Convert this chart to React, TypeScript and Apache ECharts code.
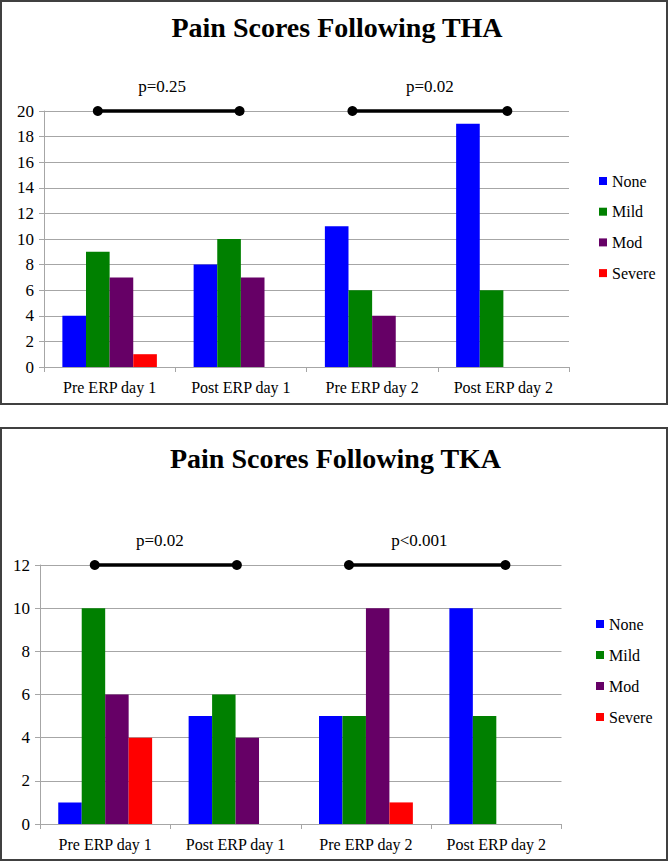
import React, { useEffect, useRef } from "react";
import * as echarts from "echarts";

const categories = ["Pre ERP day 1", "Post ERP day 1", "Pre ERP day 2", "Post ERP day 2"];
const levels = ["None", "Mild", "Mod", "Severe"];
const levelColors = ["#0000ff", "#008000", "#660066", "#ff0000"];

const thaNone = [4, 8, 11, 19];
const thaMild = [9, 10, 6, 6];
const thaMod = [7, 7, 4, null];
const thaSevere = [1, null, null, null];

const tkaNone = [1, 5, 5, 10];
const tkaMild = [10, 6, 5, 5];
const tkaMod = [6, 4, 10, null];
const tkaSevere = [4, null, 1, null];

const thaTitle = "Pain Scores Following THA";
const tkaTitle = "Pain Scores Following TKA";

const thaYTicks = { min: 0, max: 20, interval: 2 };
const tkaYTicks = { min: 0, max: 12, interval: 2 };

// brackets (x in category units 0..4, y in data units)
const thaPValues = ["p=0.25", "p=0.02"];
const thaBracketSpans = [[0.41, 1.49], [2.35, 3.53]];
const thaLabelX = [0.9, 2.94];
const thaBracketY = 20;

const tkaPValues = ["p=0.02", "p<0.001"];
const tkaBracketSpans = [[0.42, 1.51], [2.37, 3.57]];
const tkaLabelX = [0.92, 2.91];
const tkaBracketY = 12;

const FONT = "Liberation Serif";
const GRID_GRAY = "#a6a6a6";

export default function App() {
  const ref = useRef<HTMLDivElement>(null);

  useEffect(() => {
    if (!ref.current) return;
    const chart = echarts.init(ref.current, null, { renderer: "svg" });

    const catAxis = (gridIndex: number) => ({
      type: "category",
      gridIndex,
      data: categories,
      axisLine: { show: true, lineStyle: { color: GRID_GRAY, width: 1 } },
      axisTick: { show: true, alignWithLabel: false, length: 5, lineStyle: { color: GRID_GRAY } },
      axisLabel: { color: "#000", fontFamily: FONT, fontSize: 16, margin: 12 },
      splitLine: { show: false },
    });
    const hiddenX = (gridIndex: number) => ({
      type: "value",
      gridIndex,
      min: 0,
      max: 4,
      show: false,
    });
    const valAxis = (gridIndex: number, t: { min: number; max: number; interval: number }) => ({
      type: "value",
      gridIndex,
      min: t.min,
      max: t.max,
      interval: t.interval,
      axisLine: { show: true, lineStyle: { color: GRID_GRAY, width: 1 } },
      axisTick: { show: true, length: 5, lineStyle: { color: GRID_GRAY } },
      axisLabel: { color: "#000", fontFamily: FONT, fontSize: 17, margin: 10 },
      splitLine: { show: true, lineStyle: { color: GRID_GRAY, width: 1 } },
    });

    const barSeries = (data: (number | null)[][], xIdx: number, yIdx: number) =>
      data.map((d, i) => ({
        name: levels[i],
        type: "bar",
        xAxisIndex: xIdx,
        yAxisIndex: yIdx,
        data: d,
        barGap: "0%",
        barCategoryGap: "28%",
        itemStyle: { color: levelColors[i] },
      }));

    const bracketSeries = (spans: number[][], y: number, xIdx: number, yIdx: number) =>
      spans.map((s) => ({
        type: "line",
        xAxisIndex: xIdx,
        yAxisIndex: yIdx,
        data: [[s[0], y], [s[1], y]],
        symbol: "circle",
        symbolSize: 10,
        showSymbol: true,
        clip: false,
        silent: true,
        itemStyle: { color: "#000" },
        lineStyle: { color: "#000", width: 3.5 },
      }));

    const labelSeries = (xs: number[], labels: string[], y: number, xIdx: number, yIdx: number) => ({
      type: "scatter",
      xAxisIndex: xIdx,
      yAxisIndex: yIdx,
      symbolSize: 0,
      clip: false,
      silent: true,
      data: xs.map((x, i) => ({ value: [x, y], name: labels[i] })),
      label: {
        show: true,
        position: "top",
        distance: 16,
        formatter: "{b}",
        color: "#000",
        opacity: 1,
        fontFamily: FONT,
        fontSize: 17,
      },
    });

    const legendCfg = (left: number, top: number, gap: number) => ({
      orient: "vertical",
      left,
      top,
      padding: 0,
      data: levels,
      icon: "rect",
      itemWidth: 8,
      itemHeight: 8,
      itemGap: gap,
      selectedMode: false,
      textStyle: { color: "#000", fontFamily: FONT, fontSize: 16, lineHeight: 18 },
    });

    chart.setOption({
      animation: false,
      backgroundColor: "#ffffff",
      grid: [
        { left: 44, right: 100, top: 111, height: 256, containLabel: false },
        { left: 40, right: 107.5, top: 565, height: 259, containLabel: false },
      ],
      xAxis: [catAxis(0), catAxis(1), hiddenX(0), hiddenX(1)],
      yAxis: [valAxis(0, thaYTicks), valAxis(1, tkaYTicks)],
      legend: [legendCfg(599, 172, 12.7), legendCfg(596, 615, 13)],
      series: [
        ...barSeries([thaNone, thaMild, thaMod, thaSevere], 0, 0),
        ...barSeries([tkaNone, tkaMild, tkaMod, tkaSevere], 1, 1),
        ...bracketSeries(thaBracketSpans, thaBracketY, 2, 0),
        ...bracketSeries(tkaBracketSpans, tkaBracketY, 3, 1),
        labelSeries(thaLabelX, thaPValues, thaBracketY, 2, 0),
        labelSeries(tkaLabelX, tkaPValues, tkaBracketY, 3, 1),
      ],
      graphic: [
        {
          type: "rect",
          shape: { x: 1, y: 1, width: 666, height: 403 },
          style: { fill: "none", stroke: "#404040", lineWidth: 2 },
          silent: true,
        },
        {
          type: "rect",
          shape: { x: 1, y: 428, width: 666, height: 432 },
          style: { fill: "none", stroke: "#404040", lineWidth: 2 },
          silent: true,
        },
        {
          type: "text",
          x: 337,
          y: 27,
          style: {
            text: thaTitle,
            font: `bold 28px ${FONT}`,
            fill: "#000",
            textAlign: "center",
            textVerticalAlign: "middle",
          },
        },
        {
          type: "text",
          x: 335.5,
          y: 458,
          style: {
            text: tkaTitle,
            font: `bold 28px ${FONT}`,
            fill: "#000",
            textAlign: "center",
            textVerticalAlign: "middle",
          },
        },
      ],
    });

    return () => chart.dispose();
  }, []);

  return (
    <div
      ref={ref}
      style={{ position: "absolute", left: 0, top: 0, width: 669, height: 862 }}
    />
  );
}
